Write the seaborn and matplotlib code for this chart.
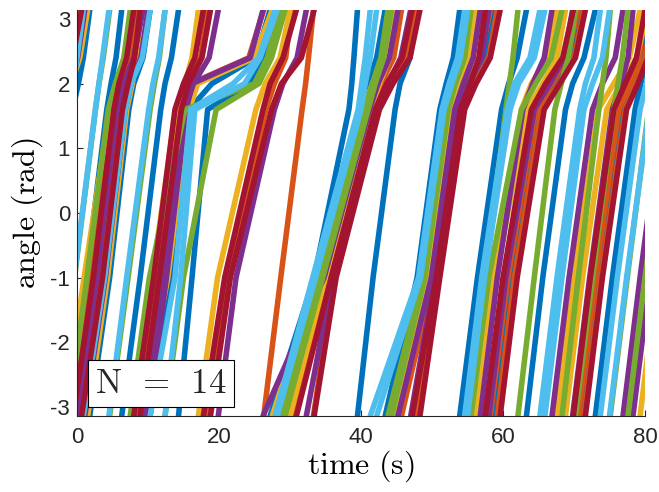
import numpy as np
import pandas as pd
import matplotlib.pyplot as plt
import seaborn as sns

levels = [-np.pi, -1.0, 1.6, 2.0, 2.4, np.pi]

# each sweep: times (s) at which the wrapped angle passes the levels above
blue_sweeps = [
    [-5.6, -3.2, -0.6, 0.2, 0.9, 1.8],
    [-1.4, 1.3, 4.2, 4.8, 5.5, 6.3],
    [1.8, 4.6, 7.3, 8.0, 9.3, 10.3],
    [6.3, 8.9, 11.8, 12.4, 13.3, 14.3],
    [10.3, 13.4, 15.8, 19.0, 25.2, 27.2],
    [14.3, 16.2, 18.4, 24.4, 26.4, 28.6],
    [27.2, 33.4, 38.3, 38.7, 39.0, 39.5],
    [28.6, 34.0, 40.2, 41.0, 42.2, 43.4],
    [39.5, 41.7, 44.8, 45.5, 46.9, 47.9],
    [43.4, 47.9, 51.1, 52.0, 53.0, 53.9],
    [47.9, 50.8, 54.2, 55.8, 57.6, 58.9],
    [53.9, 56.4, 59.8, 60.8, 62.0, 63.3],
    [58.9, 61.3, 65.0, 67.4, 69.6, 71.1],
    [63.3, 65.6, 68.8, 69.8, 71.4, 73.0],
    [71.1, 73.5, 76.8, 78.0, 79.6, 80.8],
    [73.0, 75.4, 78.6, 79.4, 80.2, 81.0],
]
orange_sweeps = [
    [-7.0, -4.6, -1.6, -1.0, -0.4, 0.15],
    [-0.7, 2.0, 4.9, 5.7, 6.9, 7.8],
    [0.15, 3.2, 6.0, 6.8, 7.6, 8.4],
    [7.8, 10.6, 15.2, 16.0, 24.2, 26.3],
    [8.4, 11.2, 14.2, 15.4, 17.4, 18.5],
    [18.5, 21.2, 26.6, 27.8, 29.4, 30.2],
    [26.3, 28.7, 31.7, 32.2, 32.6, 33.3],
    [30.2, 35.4, 41.6, 42.8, 44.6, 45.7],
    [33.3, 36.2, 42.4, 44.2, 46.4, 47.8],
    [45.7, 50.2, 53.5, 55.0, 56.8, 58.2],
    [47.8, 50.9, 54.3, 56.0, 58.0, 59.2],
    [58.2, 60.7, 64.6, 66.8, 69.0, 70.6],
    [59.2, 61.6, 65.4, 67.8, 70.0, 71.4],
    [70.6, 73.0, 76.3, 77.8, 79.2, 80.0],
    [71.4, 73.8, 77.2, 78.6, 80.0, 81.2],
]
yellow_sweeps = [
    [-6.0, -3.6, -1.2, -0.8, 0.4, 1.5],
    [-1.8, 1.0, 4.6, 5.8, 7.0, 7.9],
    [1.5, 4.3, 7.0, 7.8, 8.4, 9.0],
    [7.9, 10.6, 13.9, 15.2, 16.2, 17.1],
    [9.0, 12.8, 15.8, 17.0, 25.0, 27.5],
    [17.1, 19.8, 25.2, 26.5, 28.6, 30.0],
    [27.5, 33.8, 40.4, 41.6, 43.2, 44.5],
    [30.0, 35.0, 41.4, 42.6, 44.0, 45.0],
    [44.5, 49.3, 52.6, 53.8, 55.0, 56.1],
    [45.0, 49.6, 52.9, 54.1, 55.4, 56.6],
    [56.1, 58.6, 62.6, 64.0, 66.2, 67.6],
    [56.6, 59.0, 63.4, 65.6, 67.6, 68.8],
    [67.6, 70.0, 73.4, 75.6, 77.8, 79.3],
    [68.8, 71.2, 74.6, 76.6, 78.8, 80.4],
    [79.3, 81.7, 85.0, 85.5, 86.0, 86.8],
]
purple_sweeps = [
    [-6.0, -3.6, -1.2, -0.8, 0.1, 1.1],
    [-0.05, 2.8, 5.6, 6.6, 8.0, 9.3],
    [1.1, 4.0, 6.8, 7.6, 9.0, 10.0],
    [9.3, 12.0, 15.2, 16.4, 18.6, 19.9],
    [10.0, 12.6, 15.4, 16.2, 24.4, 26.2],
    [19.9, 22.4, 27.8, 29.0, 31.0, 32.3],
    [26.2, 34.8, 41.2, 42.4, 44.0, 45.2],
    [32.3, 36.0, 42.2, 43.8, 45.6, 47.0],
    [45.2, 49.9, 53.2, 54.4, 55.8, 56.8],
    [47.0, 50.4, 53.8, 55.2, 57.0, 58.0],
    [56.8, 59.2, 62.8, 64.2, 65.8, 66.9],
    [58.0, 60.4, 64.4, 66.6, 68.6, 69.8],
    [66.9, 69.3, 72.6, 74.0, 75.8, 76.9],
    [69.8, 72.2, 75.4, 76.6, 77.6, 78.3],
    [76.9, 79.3, 82.4, 83.0, 83.6, 84.4],
    [78.3, 80.7, 83.7, 84.2, 84.8, 85.5],
]
green_sweeps = [
    [-3.4, -0.35, 2.6, 3.1, 3.7, 4.6],
    [-1.2, 1.4, 4.4, 5.4, 6.6, 7.5],
    [4.6, 7.2, 10.3, 10.9, 11.6, 12.4],
    [7.5, 10.2, 15.2, 25.0, 26.8, 28.6],
    [12.4, 15.0, 19.6, 25.6, 27.4, 29.3],
    [28.6, 34.2, 40.6, 41.6, 42.8, 43.8],
    [29.3, 34.6, 41.0, 42.0, 43.2, 44.3],
    [43.8, 48.7, 52.0, 53.0, 54.2, 55.1],
    [44.3, 49.0, 52.3, 53.3, 54.6, 55.5],
    [55.1, 57.5, 60.4, 60.9, 61.4, 62.1],
    [55.5, 58.0, 62.6, 64.6, 66.8, 68.3],
    [62.1, 64.4, 67.3, 68.2, 69.2, 70.2],
    [68.3, 70.6, 73.5, 74.0, 74.5, 75.1],
    [70.2, 72.6, 75.6, 76.2, 76.8, 77.6],
    [75.1, 77.5, 80.5, 81.0, 81.6, 82.3],
    [77.6, 80.0, 83.0, 83.5, 84.0, 84.8],
]
lightblue_sweeps = [
    [-6.3, -3.9, -1.0, -0.5, 0.0, 0.9],
    [-2.8, -0.4, 2.6, 3.1, 3.6, 4.5],
    [0.9, 3.9, 6.8, 7.6, 9.2, 10.3],
    [4.5, 7.0, 10.1, 10.7, 11.5, 12.4],
    [10.3, 13.8, 16.0, 22.0, 25.6, 27.9],
    [12.4, 14.6, 16.6, 23.6, 25.8, 28.2],
    [27.9, 33.2, 39.6, 40.1, 40.6, 41.3],
    [28.2, 33.6, 40.0, 40.6, 41.3, 42.2],
    [41.3, 48.1, 51.4, 52.4, 53.6, 54.6],
    [42.2, 48.4, 51.7, 52.8, 54.0, 55.0],
    [54.6, 57.0, 60.6, 61.6, 63.8, 65.2],
    [55.0, 57.4, 61.0, 62.2, 64.4, 65.9],
    [65.2, 67.6, 70.8, 71.6, 72.8, 73.7],
    [65.9, 68.3, 71.4, 72.6, 74.0, 75.0],
    [73.7, 76.1, 79.3, 80.2, 81.0, 82.0],
    [75.0, 77.4, 80.6, 81.5, 82.3, 83.2],
]
red_sweeps = [
    [-6.8, -4.4, -1.5, -1.0, -0.6, 0.65],
    [-0.5, 2.3, 5.2, 5.9, 7.0, 8.0],
    [0.65, 3.6, 6.4, 7.2, 8.1, 8.9],
    [8.0, 10.8, 13.8, 15.0, 16.6, 17.8],
    [8.9, 11.6, 14.7, 15.7, 17.6, 18.8],
    [17.8, 20.8, 26.2, 27.2, 29.0, 30.9],
    [18.8, 21.6, 27.4, 28.8, 31.6, 33.4],
    [30.9, 35.8, 42.0, 43.6, 45.8, 47.2],
    [33.4, 36.5, 42.6, 44.5, 46.9, 48.3],
    [47.2, 50.6, 54.0, 55.4, 56.6, 57.5],
    [48.3, 51.1, 54.6, 56.2, 58.2, 59.6],
    [57.5, 60.0, 64.0, 66.0, 68.4, 69.9],
    [59.6, 62.0, 65.8, 68.0, 70.2, 71.6],
    [69.9, 72.3, 75.6, 77.2, 78.8, 80.0],
    [71.6, 74.0, 77.4, 79.0, 80.4, 81.6],
]

# MATLAB default colour order
palette = {
    "blue": "#0072BD",
    "orange": "#D95319",
    "yellow": "#EDB120",
    "purple": "#7E2F8E",
    "green": "#77AC30",
    "lightblue": "#4DBEEE",
    "red": "#A2142F",
}
all_sweeps = {
    "blue": blue_sweeps,
    "orange": orange_sweeps,
    "yellow": yellow_sweeps,
    "purple": purple_sweeps,
    "green": green_sweeps,
    "lightblue": lightblue_sweeps,
    "red": red_sweeps,
}

rows = []
for name, sweeps in all_sweeps.items():
    for k, times in enumerate(sweeps):
        for t, a in zip(times, levels):
            rows.append({"time": t, "angle": a, "osc": name, "sweep": f"{name}_{k}"})
df = pd.DataFrame(rows)

sns.set_style("ticks")
plt.rcParams["font.family"] = ["Liberation Sans", "DejaVu Sans"]
plt.rcParams["mathtext.fontset"] = "cm"

fig = plt.figure(figsize=(6.59, 4.92), dpi=100)
ax = fig.add_axes([0.1168, 0.1545, 0.862, 0.8255])

sns.lineplot(
    data=df, x="time", y="angle", hue="osc", units="sweep",
    estimator=None, sort=False, palette=palette,
    hue_order=list(palette.keys()), legend=False, ax=ax,
    linewidth=4.0, solid_capstyle="round", solid_joinstyle="round",
)

ax.set_xlim(0, 80)
ax.set_ylim(-np.pi, np.pi)
ax.set_xticks([0, 20, 40, 60, 80])
ax.set_yticks([-3, -2, -1, 0, 1, 2, 3])
ax.set_yticklabels(["-3", "-2", "-1", "0", "1", "2", "3"])
ax.tick_params(direction="in", length=4, width=0.8, labelsize=16,
               colors="#262626")
ax.tick_params(axis="x", pad=8)
ax.tick_params(axis="y", pad=5)
for side in ["top", "right"]:
    ax.spines[side].set_visible(False)
for side in ["left", "bottom"]:
    ax.spines[side].set_color("#262626")
    ax.spines[side].set_linewidth(0.8)

ax.set_xlabel(r"$\mathrm{time\ (s)}$", fontsize=23, color="#000000", labelpad=0)
ax.set_ylabel(r"$\mathrm{angle\ (rad)}$", fontsize=23, color="#000000", labelpad=4)

ax.text(0.032, 0.08, r"$\mathrm{N}\ \,=\ \,14$", transform=ax.transAxes,
        fontsize=25, ha="left", va="center", zorder=10,
        bbox=dict(boxstyle="square,pad=0.2", facecolor="white",
                  edgecolor="black", linewidth=0.8))

fig.savefig("out.png", dpi=100)
